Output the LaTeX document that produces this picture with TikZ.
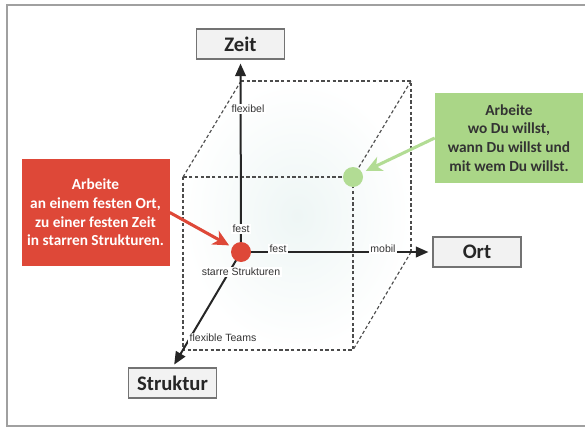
\documentclass[tikz,border=0pt]{standalone}
\usepackage{fontspec}
\setmainfont{Carlito}
\newfontfamily\labelfont{Liberation Sans}
\usepackage{xcolor}
\usetikzlibrary{calc}
\usetikzlibrary{arrows.meta}
\definecolor{boxgray}{RGB}{242,242,242}
\definecolor{framegray}{RGB}{160,160,160}
\definecolor{fixred}{RGB}{222,72,56}
\definecolor{freegreen}{RGB}{170,214,135}
\definecolor{dotgreen}{RGB}{178,220,148}
\definecolor{tint}{RGB}{238,246,245}

\begin{document}
\begin{tikzpicture}[x=.75pt,y=-.75pt,
  axisbox/.style={draw=black!55,fill=boxgray,line width=.8pt,minimum width=66pt,minimum height=22.5pt,
    font=\fontsize{15.5}{18}\selectfont\bfseries,text=black!85},
  axislabel/.style={fill=white,inner sep=1.2pt,font=\labelfont\fontsize{7.9}{9}\selectfont,text=black!80},
  axisline/.style={line width=1.5pt,black!85,-{Triangle[length=9.5pt,width=8pt]}},
  cubeedge/.style={black!70,line width=.85pt,dash pattern=on 2.5pt off 1.8pt},
  dot/.style={circle,inner sep=0pt,minimum size=15pt},
  callout/.style={align=center,minimum width=111pt,font=\fontsize{11.5}{14}\selectfont\bfseries},
  pointer/.style={line width=2.3pt,-{Stealth[length=12pt,width=11.5pt,inset=3.5pt]}}
]
\useasboundingbox (0,0) rectangle (585,428);

% frame, open on the right
\draw[framegray,line width=1.5pt] (585,5) -- (7,5) -- (7,426) -- (585,426);

% cube corners
\coordinate (origin) at (241,252);
\coordinate (bt1) at (241,81);
\coordinate (bt2) at (411,81);
\coordinate (bb2) at (411,252);
\coordinate (ft1) at (183,177);
\coordinate (ft2) at (353,177);
\coordinate (fb2) at (353,350);
\coordinate (fb1) at (183,350);

\shade[inner color=tint,outer color=white] (bt1) -- (bt2) -- (bb2) -- (fb2) -- (fb1) -- (ft1) -- cycle;

\draw[cubeedge] (ft1) rectangle (fb2);
\draw[cubeedge] (bt1) -- (bt2) -- (bb2);
\foreach \a/\b in {bt1/ft1, bt2/ft2, bb2/fb2}
    \draw[cubeedge] (\a) -- (\b);

% axes
\node[axisbox] (zeit) at (240.5,44) {Zeit};
\node[axisbox] (ort) at (477,252) {Ort};
\node[axisbox] (struktur) at (172.5,383) {Struktur};

\draw[axisline,shorten >=3pt] (origin) -- (zeit.south);
\draw[axisline,shorten >=3pt] (origin) -- (ort.west);
\draw[axisline,shorten >=2.5pt] (origin) -- (struktur.north);

\node[axislabel] (flexibel) at (248,109) {flexibel};
\node[axislabel] (festzeit) at (241,229) {fest};
\node[axislabel] (festort) at (278,249) {fest};
\node[axislabel] (mobil) at (383,249) {mobil};
\node[axislabel] (starr) at (241,272) {starre Strukturen};
\node[axislabel] (teams) at (223,338) {flexible Teams};

% the two ways of working
\node[dot,fill=fixred] (fix) at (origin) {};
\node[dot,fill=dotgreen] (frei) at (ft2) {};

\node[callout,fill=fixred,text=white,minimum height=80pt] (festtext) at (95.5,212.5)
    {Arbeite\\an einem festen Ort,\\zu einer festen Zeit\\in starren Strukturen.};
\node[callout,fill=freegreen,text=black!80,minimum height=67.5pt] (freitext) at (509,138)
    {Arbeite\\wo Du willst,\\wann Du willst und\\mit wem Du willst.};

\draw[pointer,fixred,shorten >=2.5pt] (festtext.east) -- (fix);
\draw[pointer,dotgreen,shorten >=3pt] (freitext.west) -- (frei);

\end{tikzpicture}
\end{document}
